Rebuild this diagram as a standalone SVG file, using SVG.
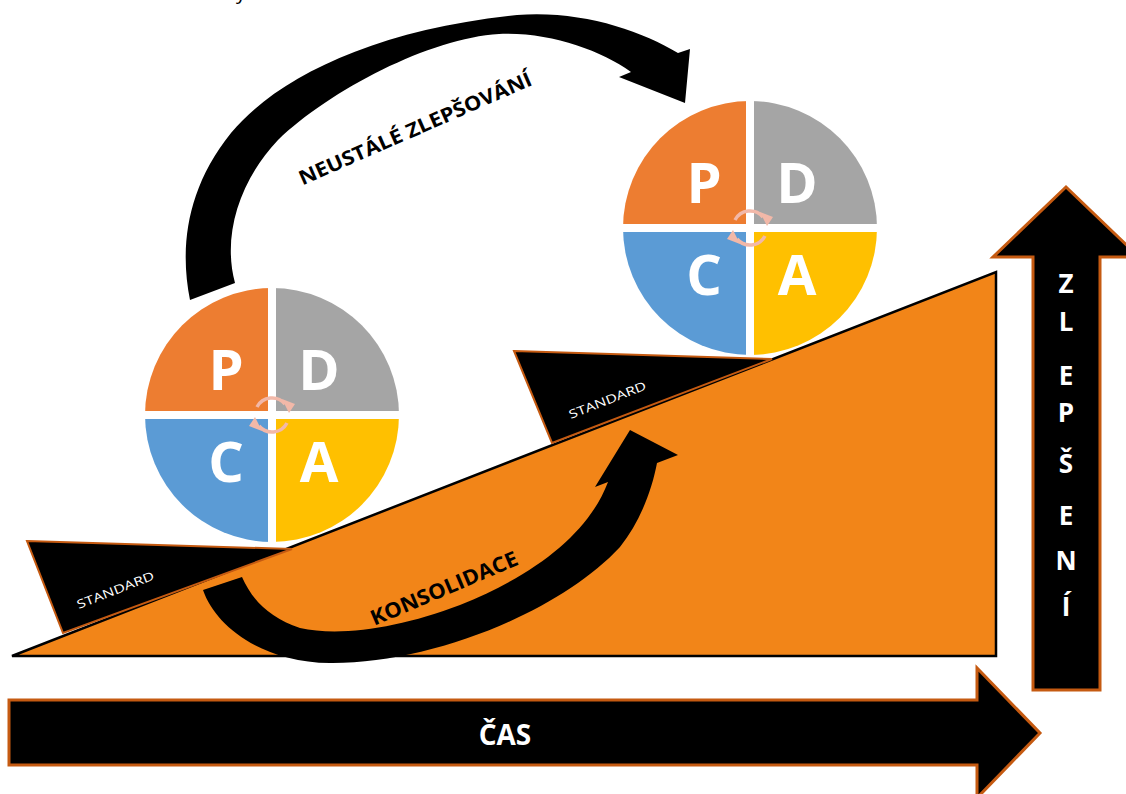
<svg xmlns="http://www.w3.org/2000/svg" width="1126" height="794" viewBox="0 0 1126 794">
<defs>
<style>
.lbl{font-family:"Open Sans","Liberation Sans",sans-serif;font-weight:bold}
.pdca{font-family:"Open Sans","Liberation Sans",sans-serif;font-weight:bold;font-size:56px;fill:#fff;text-anchor:middle}
.std{font-family:"Open Sans","Liberation Sans",sans-serif;font-size:12px;fill:#fff;text-anchor:middle}
.wedge{fill:#000;stroke:#C55A11;stroke-width:2;stroke-linejoin:miter}
.cyc{fill:none;stroke:#F2B8A8;stroke-width:3.5}
.cyh{fill:#F2B8A8}
.big{fill:#000;stroke:#C55A11;stroke-width:3}
</style>
<g id="pdca-shape">
<path d="M0,0 L-127,0 A127,127 0 0 1 0,-127 Z" fill="#ED7D31"/>
<path d="M0,0 L0,-127 A127,127 0 0 1 127,0 Z" fill="#A5A5A5"/>
<path d="M0,0 L127,0 A127,127 0 0 1 0,127 Z" fill="#FFC000"/>
<path d="M0,0 L0,127 A127,127 0 0 1 -127,0 Z" fill="#5B9BD5"/>
<path d="M-128,0 H128 M0,-128 V128" stroke="#fff" stroke-width="8"/>
<text class="pdca" x="-46" y="-25">P</text>
<text class="pdca" x="47" y="-25">D</text>
<text class="pdca" x="-46" y="67">C</text>
<text class="pdca" x="47" y="67">A</text>
<path class="cyc" d="M-15,-8 A17,17 0 0 1 13,-11"/>
<path class="cyh" d="M10,-16 L23,-11 L17,-2 Z"/>
<path class="cyc" d="M15,8 A17,17 0 0 1 -13,11"/>
<path class="cyh" d="M-10,16 L-23,11 L-17,2 Z"/>
</g>
</defs>
<rect width="1126" height="794" fill="#fff"/>
<text x="236" y="-1" class="lbl" style="font-weight:normal;font-size:20px" fill="#000">y</text>

<g id="slope">
<polygon points="12,656 996,272 996,656" fill="#F28518" stroke="#000" stroke-width="2.5"/>
</g>

<g id="standard-1">
<polygon class="wedge" points="27,541 292,549 63,633"/>
<text class="std" transform="translate(117,594) rotate(-21.5)" textLength="82" lengthAdjust="spacingAndGlyphs">STANDARD</text>
</g>
<g id="standard-2">
<polygon class="wedge" points="514,351 772,359 552,443"/>
<text class="std" transform="translate(609,404) rotate(-21.5)" textLength="82" lengthAdjust="spacingAndGlyphs">STANDARD</text>
</g>

<g id="pdca-1">
<use href="#pdca-shape" transform="translate(272,415)"/>
</g>
<g id="pdca-2">
<use href="#pdca-shape" transform="translate(750,228)"/>
</g>

<g id="connectors">
<path id="neustale-arrow" fill="#000" d="M190,300 C180,250 185,190 231,133 C275,80 370,30 517,15 C580,10 640,30 678,53 L690,49 L685,103 L619,77 L631,72 C600,50 550,32 499,34 C430,38 330,90 278,140 C240,180 222,235 235,283 Z"/>
<path id="konsolidace-arrow" fill="#000" d="M203,590 C215,625 260,662 330,663 C430,664 560,612 620,547 C640,522 652,490 657,463 L678,455 L630,430 L595,487 L608,482 C590,530 540,573 460,605 C400,628 340,637 300,628 C270,618 252,600 242,577 Z"/>
</g>

<text class="lbl" font-size="20" fill="#000" text-anchor="middle" transform="translate(418,135) rotate(-23.6)" textLength="252" lengthAdjust="spacingAndGlyphs">NEUSTÁLÉ ZLEPŠOVÁNÍ</text>
<text class="lbl" font-size="21" fill="#000" text-anchor="middle" transform="translate(447,595) rotate(-23)" textLength="158" lengthAdjust="spacingAndGlyphs">KONSOLIDACE</text>

<g id="cas">
<polygon class="big" stroke-width="2" points="9,700 977,700 977,668 1040,733 977,798 977,765 9,765"/>
<text class="lbl" font-size="28" fill="#fff" text-anchor="middle" x="505" y="745">ČAS</text>
</g>

<g id="zlepseni">
<polygon class="big" points="1033,690 1033,257 993,257 1066,187 1139,257 1100,257 1100,690"/>
<g class="lbl" font-size="26" fill="#fff" text-anchor="middle">
<text x="1066" y="293">Z</text>
<text x="1066" y="331">L</text>
<text x="1066" y="385">E</text>
<text x="1066" y="422">P</text>
<text x="1066" y="473">Š</text>
<text x="1066" y="525">E</text>
<text x="1066" y="570">N</text>
<text x="1066" y="616">Í</text>
</g>
</g>
</svg>
